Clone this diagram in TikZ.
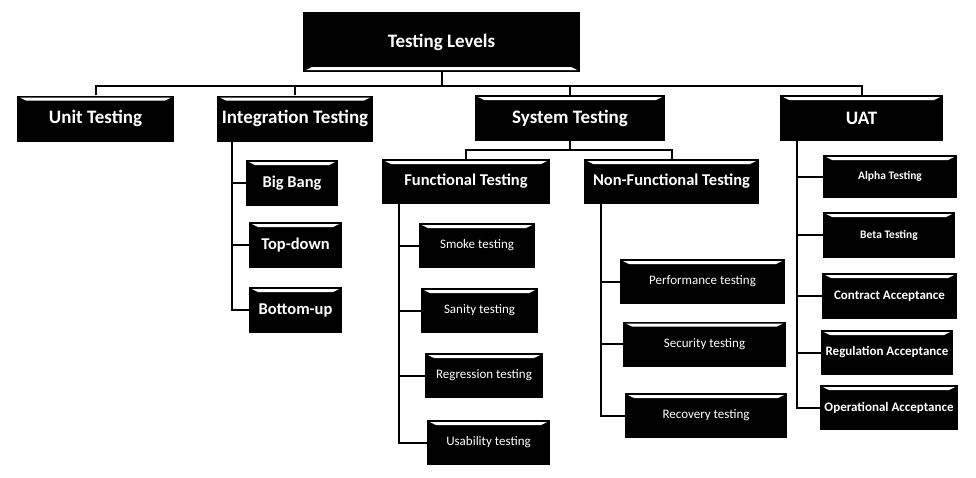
\documentclass[tikz,border=0pt]{standalone}
\usepackage{fontspec}
\setmainfont{Carlito}
\usetikzlibrary{positioning}

\begin{document}
\begin{tikzpicture}[x=1pt, y=-1pt,
                          bevelbox/.style={rectangle, fill=black, text=white, inner sep=0pt, align=center,
                              path picture={\fill[white] ([xshift=3pt,yshift=-2pt]path picture bounding box.north west)
                                  -- ([xshift=-3pt,yshift=-2pt]path picture bounding box.north east)
                                  -- ([xshift=-9pt,yshift=-5pt]path picture bounding box.north east)
                                  -- ([xshift=9pt,yshift=-5pt]path picture bounding box.north west) -- cycle;}},
                          rootnode/.style={rectangle, fill=black, text=white, inner sep=0pt, minimum width=277pt, minimum height=60pt,
                              font=\bfseries\fontsize{19}{22}\selectfont,
                              path picture={\fill[white] ([xshift=3pt,yshift=2pt]path picture bounding box.south west)
                                  -- ([xshift=-3pt,yshift=2pt]path picture bounding box.south east)
                                  -- ([xshift=-9pt,yshift=5pt]path picture bounding box.south east)
                                  -- ([xshift=9pt,yshift=5pt]path picture bounding box.south west) -- cycle;}},
                          levelnode/.style={bevelbox, minimum height=46pt, font=\bfseries\fontsize{19}{22}\selectfont},
                          midnode/.style={bevelbox, minimum height=46pt, font=\bfseries\fontsize{16.5}{19}\selectfont},
                          testnode/.style={bevelbox, minimum height=45pt, font=\fontsize{13}{15}\selectfont},
                          uatnode/.style={bevelbox, minimum height=45pt, font=\bfseries\fontsize{13}{15}\selectfont},
                          link/.style={draw, line width=2pt},
                      ]
                      \useasboundingbox (0,0) rectangle (976,477);

                      %Nodes
                      \node[rootnode]                         (root)      at (441.5,42)    {Testing Levels};
                      \node[levelnode, minimum width=157pt]   (unit)      at (95.5,118.5)  {Unit Testing};
                      \node[levelnode, minimum width=156pt]   (integ)     at (295,118.5)   {Integration Testing};
                      \node[levelnode, minimum width=190pt]   (sys)       at (570,118)     {System Testing};
                      \node[levelnode, minimum width=163pt]   (uat)       at (861.5,118)   {UAT};

                      \node[midnode, minimum width=92pt]      (bigbang)   at (292,183)     {Big Bang};
                      \node[midnode, minimum width=93pt]      (topdown)   at (295.5,245)   {Top-down};
                      \node[midnode, minimum width=93pt]      (bottomup)  at (295.5,310)   {Bottom-up};

                      \node[midnode, minimum width=168pt, minimum height=45pt] (func) at (466,181.5) {Functional Testing};
                      \node[midnode, minimum width=175pt, minimum height=45pt] (nonf) at (671.5,181.5) {Non-Functional Testing};

                      \node[testnode, minimum width=116pt]    (smoke)     at (477,245.5)   {Smoke testing};
                      \node[testnode, minimum width=117pt]    (sanity)    at (479.5,310.5) {Sanity testing};
                      \node[testnode, minimum width=118pt]    (regress)   at (484,375.5)   {Regression testing};
                      \node[testnode, minimum width=123pt]    (usab)      at (488.5,442.5) {Usability testing};

                      \node[testnode, minimum width=165pt]    (perf)      at (702.5,281.5) {Performance testing};
                      \node[testnode, minimum width=163pt]    (secur)     at (704.5,344)   {Security testing};
                      \node[testnode, minimum width=162pt]    (recov)     at (706,415.5)   {Recovery testing};

                      \node[uatnode, minimum width=134pt, minimum height=43pt, font=\bfseries\fontsize{11.5}{13}\selectfont] (alpha) at (890,176.5) {Alpha Testing};
                      \node[uatnode, minimum width=132pt, minimum height=46pt, font=\bfseries\fontsize{11.5}{13}\selectfont] (beta)  at (889,235)   {Beta Testing};
                      \node[uatnode, minimum width=135pt, minimum height=46pt] (contract)  at (889.5,296)   {Contract Acceptance};
                      \node[uatnode, minimum width=132pt]     (regul)     at (887,352.5)   {Regulation Acceptance};
                      \node[uatnode, minimum width=138pt]     (oper)      at (889,407.5)   {Operational Acceptance};

                      %Lines
                      \coordinate (bus) at (441.5,86);
                      \draw[link] (root.south) -- (bus);
                      \draw[link] (unit.north) |- (bus) -| (uat.north);
                      \draw[link] (integ.north) -- (integ.north |- bus);
                      \draw[link] (sys.north) -- (sys.north |- bus);

                      \coordinate (sysbus) at (570,150);
                      \draw[link] (sys.south) -- (sysbus);
                      \draw[link] (func.north) |- (sysbus) -| (nonf.north);

                      \coordinate (intspine) at ([xshift=15pt]integ.south west);
                      \draw[link] (intspine) |- (bottomup.west);
                      \draw[link] (intspine |- bigbang.west) -- (bigbang.west);
                      \draw[link] (intspine |- topdown.west) -- (topdown.west);

                      \coordinate (funcspine) at ([xshift=17pt]func.south west);
                      \draw[link] (funcspine) |- (usab.west);
                      \draw[link] (funcspine |- smoke.west) -- (smoke.west);
                      \draw[link] (funcspine |- sanity.west) -- (sanity.west);
                      \draw[link] (funcspine |- regress.west) -- (regress.west);

                      \coordinate (nonfspine) at ([xshift=17pt]nonf.south west);
                      \draw[link] (nonfspine) |- (recov.west);
                      \draw[link] (nonfspine |- perf.west) -- (perf.west);
                      \draw[link] (nonfspine |- secur.west) -- (secur.west);

                      \coordinate (uatspine) at ([xshift=17pt]uat.south west);
                      \draw[link] (uatspine) |- (oper.west);
                      \draw[link] (uatspine |- alpha.west) -- (alpha.west);
                      \draw[link] (uatspine |- beta.west) -- (beta.west);
                      \draw[link] (uatspine |- contract.west) -- (contract.west);
                      \draw[link] (uatspine |- regul.west) -- (regul.west);
                  \end{tikzpicture}
\end{document}
